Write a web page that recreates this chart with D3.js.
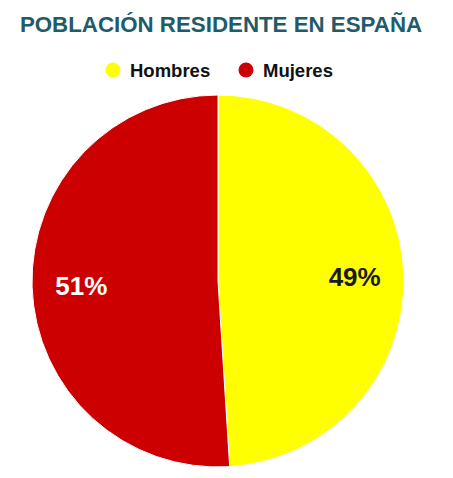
<!DOCTYPE html>
<html>
<head>
<meta charset="utf-8">
<script src="https://cdn.jsdelivr.net/npm/d3@7"></script>
<style>
  body { margin: 0; background: #fff; }
  svg { display: block; font-family: "Liberation Sans", Arial, sans-serif; }
</style>
</head>
<body>
<div id="chart"></div>
<script>
// datos del gráfico
const categories = ["Hombres", "Mujeres"];
const values = [49, 51];
const colors = ["#ffff00", "#cc0000"];
const labelColors = ["#1a1a1a", "#ffffff"];

const W = 453, H = 478;
const cx = 218, cy = 281, radius = 186;

const svg = d3.select("#chart").append("svg")
  .attr("width", W)
  .attr("height", H);

// Título
svg.append("text")
  .attr("x", 221)
  .attr("y", 32)
  .attr("text-anchor", "middle")
  .style("font-size", "22.3px")
  .style("font-weight", "700")
  .style("fill", "#215a69")
  .text("POBLACIÓN RESIDENTE EN ESPAÑA");

// Leyenda
const legendX = [113, 246];
const legend = svg.append("g")
  .selectAll("g")
  .data(categories)
  .enter().append("g")
  .attr("transform", (d, i) => `translate(${legendX[i]},70)`);

legend.append("circle")
  .attr("r", 7.5)
  .attr("fill", (d, i) => colors[i]);

legend.append("text")
  .attr("x", 17)
  .attr("y", 6.5)
  .style("font-size", "18.5px")
  .style("font-weight", "700")
  .style("fill", "#111")
  .text(d => d);

// Tarta
const pie = d3.pie().sort(null).value(d => d);
const arcs = pie(values);
const arc = d3.arc().innerRadius(0).outerRadius(radius);
const labelArc = d3.arc().innerRadius(radius * 0.735).outerRadius(radius * 0.735);

const g = svg.append("g").attr("transform", `translate(${cx},${cy})`);

g.selectAll("path")
  .data(arcs)
  .enter().append("path")
  .attr("d", arc)
  .attr("fill", (d, i) => colors[i])
  .attr("stroke", "#fff")
  .attr("stroke-width", 1);

g.selectAll(".lbl")
  .data(arcs)
  .enter().append("text")
  .attr("class", "lbl")
  .attr("transform", d => `translate(${labelArc.centroid(d)})`)
  .attr("text-anchor", "middle")
  .attr("dy", "0.36em")
  .style("font-size", "26px")
  .style("font-weight", "700")
  .style("fill", (d, i) => labelColors[i])
  .text(d => d.data + "%");
</script>
</body>
</html>
